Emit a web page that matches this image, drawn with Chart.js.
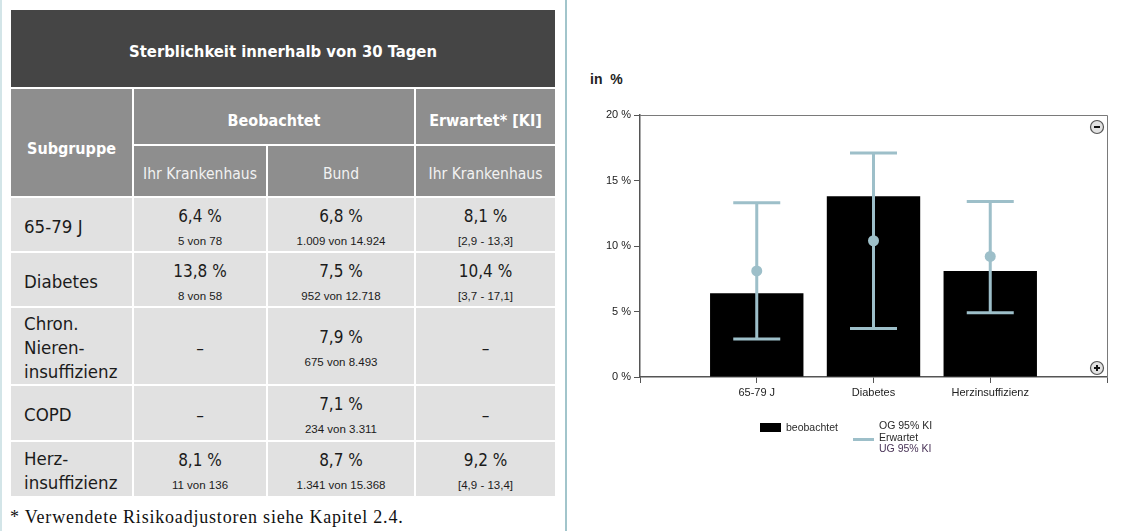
<!DOCTYPE html>
<html lang="de">
<head>
<meta charset="utf-8">
<title>Sterblichkeit innerhalb von 30 Tagen</title>
<script src="https://cdn.jsdelivr.net/npm/chart.js@4.4.1/dist/chart.umd.min.js"></script>
<style>
    html, body { margin: 0; padding: 0; background: #fff; }
    body { width: 1127px; height: 531px; position: relative; overflow: hidden; font-family: "Liberation Sans", Arial, sans-serif; }
    .edge { position: absolute; left: 0; top: 0; width: 2px; height: 531px; background: #d3e5e8; }
    .sep { position: absolute; left: 565px; top: 0; width: 2px; height: 531px; background: #a2c5cb; }
    table.kt { position: absolute; left: 11px; top: 10px; width: 544px; border-collapse: collapse; border-style: hidden; table-layout: fixed;
        font-family: "Liberation Sans Narrow", "DejaVu Sans Condensed", "Liberation Sans", sans-serif; }
    table.kt td, table.kt th { border: 2px solid #fff; padding: 0; text-align: center; vertical-align: middle; }
    .title { background: #454545; color: #fff; font-weight: bold; font-size: 16.5px; height: 78px; padding-top: 6px !important; box-sizing: border-box; }
    .h1 { background: #8e8e8e; color: #fff; font-weight: bold; font-size: 16px; padding-top: 8px !important; }
    .h1.sub { padding-top: 12px !important; }
    .h2 { background: #8e8e8e; color: #f2f2f2; font-weight: normal; font-size: 15.5px; padding-top: 6px !important; }
    .body td { background: #e1e1e1; color: #1b1b1b; padding-top: 4px !important; }
    .body td.lab { text-align: left; padding-left: 13px !important; font-size: 18.5px; line-height: 24px; }
    .v { font-size: 17px; line-height: 20px; }
    .n { font-size: 11.5px; line-height: 14px; margin-top: 8px; font-family: "Liberation Sans", Arial, sans-serif; }
    .dash { font-size: 17px; }
    .foot { position: absolute; left: 10px; top: 507px; font-family: "Liberation Serif", "DejaVu Serif", serif; font-size: 18px; letter-spacing: 0.8px; color: #111; }
    .unit { position: absolute; left: 590px; top: 71px; font-weight: bold; font-size: 14px; color: #222; }
    #chartBox { position: absolute; left: 570px; top: 0; width: 557px; height: 531px; }
    .lg { position: absolute; font-size: 10.5px; color: #2a2a2a; line-height: 11.5px; }
    .lgBox { position: absolute; left: 760px; top: 423px; width: 21px; height: 9px; background: #000; }
    .lgLine { position: absolute; left: 853px; top: 438px; width: 21px; height: 3px; background: #9dbfc9; }
</style>
</head>
<body>
<div class="edge"></div>
<div class="sep"></div>

<table class="kt" id="tabelle">
    <colgroup><col style="width:122px"><col style="width:134px"><col style="width:148px"><col style="width:140px"></colgroup>
    <tr><td class="title" colspan="4">Sterblichkeit innerhalb von 30 Tagen</td></tr>
    <tr style="height:57px">
        <td class="h1 sub" rowspan="2">Subgruppe</td>
        <td class="h1" colspan="2">Beobachtet</td>
        <td class="h1">Erwartet* [KI]</td>
    </tr>
    <tr style="height:52px">
        <td class="h2">Ihr Krankenhaus</td>
        <td class="h2">Bund</td>
        <td class="h2">Ihr Krankenhaus</td>
    </tr>
</table>

<div class="foot">* Verwendete Risikoadjustoren siehe Kapitel 2.4.</div>

<div class="unit">in &nbsp;%</div>
<div id="chartBox"><canvas id="sterbChart"></canvas></div>

<div class="lgBox"></div>
<div class="lg" style="left:786px; top:422px;">beobachtet</div>
<div class="lgLine"></div>
<div class="lg" style="left:879px; top:420px;">OG 95% KI<br>Erwartet<br><span style="color:#4a3458">UG 95% KI</span></div>

<script>
// Tabelle
const subgruppen = ['65-79 J', 'Diabetes', 'Chron.<br>Nieren-<br>insuffizienz', 'COPD', 'Herz-<br>insuffizienz'];
const khWert = ['6,4 %', '13,8 %', null, null, '8,1 %'];
const khFaelle = ['5 von 78', '8 von 58', null, null, '11 von 136'];
const bundWert = ['6,8 %', '7,5 %', '7,9 %', '7,1 %', '8,7 %'];
const bundFaelle = ['1.009 von 14.924', '952 von 12.718', '675 von 8.493', '234 von 3.311', '1.341 von 15.368'];
const erwWert = ['8,1 %', '10,4 %', null, null, '9,2 %'];
const erwKI = ['[2,9 - 13,3]', '[3,7 - 17,1]', null, null, '[4,9 - 13,4]'];
const zeilenHoehe = [55, 55, 75, 56, 55];

// Diagramm
const categories = ['65-79 J', 'Diabetes', 'Herzinsuffizienz'];
const beobachtet = [6.4, 13.8, 8.1];
const erwartet = [8.1, 10.4, 9.2];
const ogKI = [13.3, 17.1, 13.4];
const ugKI = [2.9, 3.7, 4.9];
const yTicks = [0, 5, 10, 15, 20];

const kiColor = '#9dbfc9';

function zelle(wert, faelle) {
    if (!wert) return '<td><span class="dash">–</span></td>';
    return '<td><div class="v">' + wert + '</div><div class="n">' + faelle + '</div></td>';
}

const tab = document.getElementById('tabelle');
subgruppen.forEach(function(s, i) {
    const tr = document.createElement('tr');
    tr.className = 'body';
    tr.style.height = zeilenHoehe[i] + 'px';
    tr.innerHTML = '<td class="lab">' + s + '</td>' +
        zelle(khWert[i], khFaelle[i]) + zelle(bundWert[i], bundFaelle[i]) + zelle(erwWert[i], erwKI[i]);
    tab.appendChild(tr);
});

// leere Randpositionen, damit die Kategorien bei 1..3 von 0..4 liegen
const xLabels = [''].concat(categories, ['']);
const pad = arr => [null].concat(arr, [null]);

const errorBars = {
    id: 'errorBars',
    afterDatasetsDraw(chart) {
        const { ctx, scales: { x, y } } = chart;
        ctx.save();
        ctx.strokeStyle = kiColor;
        ctx.lineWidth = 3;
        categories.forEach(function(c, i) {
            const px = x.getPixelForValue(i + 1);
            const top = y.getPixelForValue(ogKI[i]);
            const bot = y.getPixelForValue(ugKI[i]);
            ctx.beginPath();
            ctx.moveTo(px, top); ctx.lineTo(px, bot);
            ctx.moveTo(px - 23.5, top); ctx.lineTo(px + 23.5, top);
            ctx.moveTo(px - 23.5, bot); ctx.lineTo(px + 23.5, bot);
            ctx.stroke();
        });
        ctx.restore();
    }
};

const frameAndZoom = {
    id: 'frameAndZoom',
    afterDraw(chart) {
        const { ctx, chartArea: a } = chart;
        ctx.save();
        ctx.strokeStyle = '#7a7a7a';
        ctx.lineWidth = 1;
        ctx.beginPath();
        ctx.moveTo(a.left, a.top + 0.5); ctx.lineTo(a.right + 0.5, a.top + 0.5); ctx.lineTo(a.right + 0.5, a.bottom);
        ctx.stroke();
        // zoom buttons
        [['-', a.top + 12], ['+', a.bottom - 9]].forEach(function(b) {
            const cx = a.right - 10, cy = b[1];
            ctx.beginPath();
            ctx.arc(cx, cy, 6.5, 0, Math.PI * 2);
            ctx.fillStyle = '#e2e2e2';
            ctx.fill();
            ctx.strokeStyle = '#555';
            ctx.lineWidth = 1.2;
            ctx.stroke();
            ctx.fillStyle = '#111';
            ctx.fillRect(cx - 3, cy - 1, 6, 2);
            if (b[0] === '+') ctx.fillRect(cx - 1, cy - 3, 2, 6);
        });
        ctx.restore();
    }
};

const ctx = document.getElementById('sterbChart').getContext('2d');
const sterbChart = new Chart(ctx, {
    data: {
        labels: xLabels,
        datasets: [{
            type: 'line',
            label: 'Erwartet',
            data: pad(erwartet),
            showLine: false,
            pointRadius: 5.5,
            pointBackgroundColor: kiColor,
            pointBorderWidth: 0,
            order: 0
        }, {
            type: 'bar',
            label: 'beobachtet',
            data: pad(beobachtet),
            backgroundColor: '#000',
            barPercentage: 0.8,
            categoryPercentage: 1,
            order: 1
        }]
    },
    options: {
        responsive: true,
        maintainAspectRatio: false,
        animation: false,
        layout: { padding: { left: 10, right: 20, top: 115, bottom: 124 } },
        plugins: { legend: { display: false }, tooltip: { enabled: false } },
        scales: {
            x: {
                offset: false,
                afterFit: s => { s.height = 30; },
                border: { color: '#555', width: 1.5 },
                grid: { offset: false, drawOnChartArea: false, tickLength: 6, color: '#555' },
                ticks: { color: '#222', font: { family: 'Liberation Sans', size: 11 }, padding: 3, maxRotation: 0, autoSkip: false }
            },
            y: {
                min: 0,
                max: 20,
                afterFit: s => { s.width = 60; },
                afterBuildTicks: s => { s.ticks = yTicks.map(v => ({ value: v })); },
                border: { color: '#555', width: 1.5 },
                grid: { drawOnChartArea: false, tickLength: 6, color: '#555' },
                ticks: { color: '#222', font: { family: 'Liberation Sans', size: 11 }, padding: 3, callback: v => v + ' %' }
            }
        }
    },
    plugins: [errorBars, frameAndZoom]
});
</script>
</body>
</html>
